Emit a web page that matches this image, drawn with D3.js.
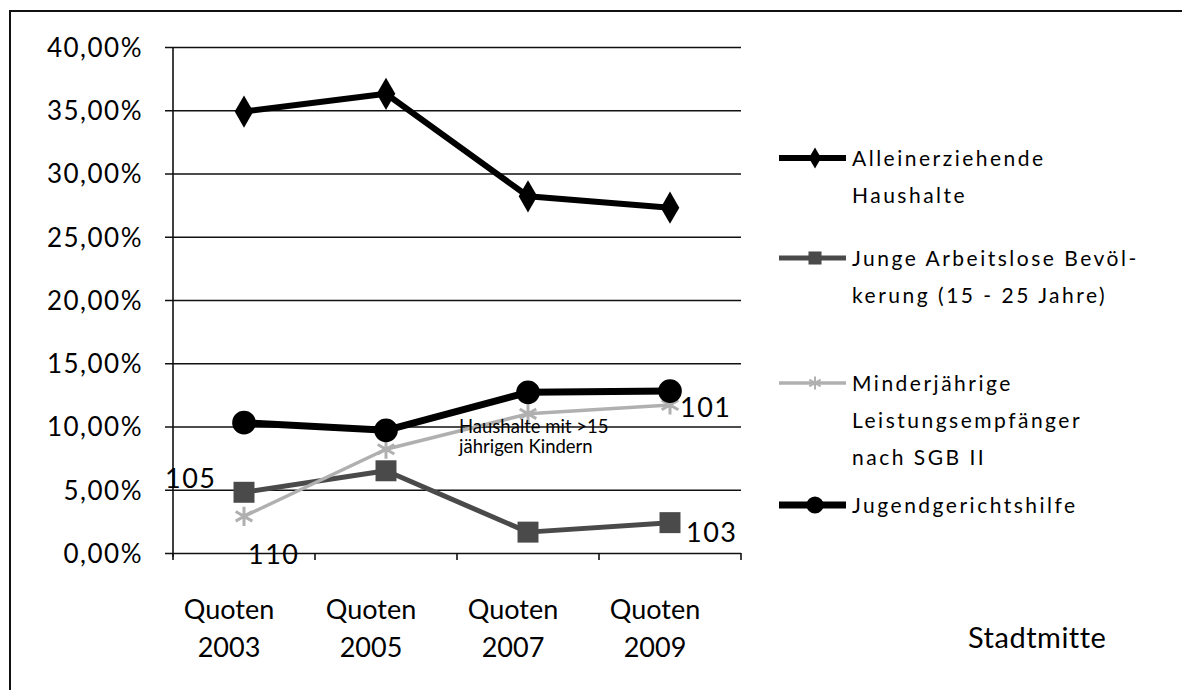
<!DOCTYPE html>
<html>
<head>
<meta charset="utf-8">
<script src="https://cdn.jsdelivr.net/npm/d3@7"></script>
<style>
  body { margin: 0; background: #fff; }
  svg text { font-family: Lato, "Open Sans", sans-serif; fill: #000; }
</style>
</head>
<body>
<svg id="chart"></svg>
<script>
/*
    DATA
*/
var years = ["2003", "2005", "2007", "2009"];
var yTicks = [0, 0.05, 0.10, 0.15, 0.20, 0.25, 0.30, 0.35, 0.40];

var alleinerziehende = [0.349, 0.363, 0.282, 0.273];
var jungeArbeitslose = [0.048, 0.065, 0.0165, 0.024];
var minderjaehrige   = [0.029, 0.082, 0.110, 0.117];
var jugendgericht    = [0.103, 0.097, 0.127, 0.128];

var legendLines = [
  ["Alleinerziehende", "Haushalte"],
  ["Junge  Arbeitslose Bevöl-", "kerung (15 - 25 Jahre)"],
  ["Minderjährige", "Leistungsempfänger", "nach SGB II"],
  ["Jugendgerichtshilfe"]
];

// small number labels sitting beside some points: [series, index, text]
var pointLabels = [
  [1, 0, "105"],
  [2, 0, "110"],
  [2, 3, "101"],
  [1, 3, "103"]
];
var noteLines = ["Haushalte mit >15", "jährigen Kindern"];

/*
    LAYOUT
*/
var width = 1182, height = 690;
var plot = {left: 173, right: 741, top: 47, bottom: 553};

var svg = d3.select("#chart").attr("width", width).attr("height", height);

// frame of the scanned picture
svg.append("line").attr("x1", 9).attr("x2", width).attr("y1", 11).attr("y2", 11)
  .attr("stroke", "#111").attr("stroke-width", 2);
svg.append("line").attr("x1", 10).attr("x2", 10).attr("y1", 11).attr("y2", height)
  .attr("stroke", "#111").attr("stroke-width", 2);

var x = d3.scaleBand().domain(years).range([plot.left, plot.right]);
var y = d3.scaleLinear().domain([0, 0.40]).range([plot.bottom, plot.top]);
var cx = function(i) { return x(years[i]) + x.bandwidth() / 2; };

var pct = function(v) { return d3.format(".2f")(v * 100).replace(".", ",") + "%"; };

// gridlines + y labels
var yAxis = d3.axisLeft(y).tickValues(yTicks).tickFormat(pct)
  .tickSize(-(plot.right - plot.left) - 8).tickPadding(22);
var gy = svg.append("g").attr("transform", "translate(" + (plot.left - 8) + ",0)").call(yAxis);
gy.select(".domain").remove();
gy.selectAll(".tick line").attr("stroke", "#111").attr("stroke-width", 1.6);
gy.selectAll(".tick text").attr("font-size", 26).attr("letter-spacing", 1.5)
  .attr("dy", "0.36em").attr("x", -22);

// y axis line
svg.append("line").attr("x1", plot.left).attr("x2", plot.left)
  .attr("y1", plot.top).attr("y2", plot.bottom + 4)
  .attr("stroke", "#111").attr("stroke-width", 1.6);

// x axis ticks
var xTicks = d3.range(years.length + 1).map(function(i) { return plot.left + i * x.bandwidth(); });
svg.selectAll(".xtick").data(xTicks).enter().append("line")
  .attr("x1", function(d) { return d; }).attr("x2", function(d) { return d; })
  .attr("y1", plot.bottom).attr("y2", plot.bottom + 7)
  .attr("stroke", "#111").attr("stroke-width", 1.6);

// x labels
var xl = svg.selectAll(".xlab").data(years).enter().append("text")
  .attr("text-anchor", "middle").attr("font-size", 27)
  .attr("x", function(d) { return x(d) + x.bandwidth() / 2 - 15; });
xl.append("tspan").attr("y", 619).text("Quoten");
xl.append("tspan").attr("y", 657).attr("x", function(d) { return x(d) + x.bandwidth() / 2 - 15; })
  .text(function(d) { return d; });

/*
    SERIES
*/
var series = [
  {values: alleinerziehende, color: "#000", width: 6, marker: "diamond"},
  {values: jungeArbeitslose, color: "#4a4a4a", width: 5, marker: "square"},
  {values: minderjaehrige, color: "#b0b0b0", width: 3.5, marker: "star"},
  {values: jugendgericht, color: "#000", width: 7, marker: "circle"}
];

var lineGen = d3.line().x(function(d, i) { return cx(i); }).y(function(d) { return y(d); });

var symbolFor = function(m, big) {
  if (m === "diamond") return d3.symbol().type(d3.symbolDiamond).size(big ? 300 : 130)();
  if (m === "square") return d3.symbol().type(d3.symbolSquare).size(big ? 440 : 170)();
  if (m === "star") return d3.symbol().type(d3.symbolAsterisk).size(big ? 260 : 120)();
  return d3.symbol().type(d3.symbolCircle).size(big ? 440 : 230)();
};

series.forEach(function(s) {
  svg.append("path").datum(s.values).attr("d", lineGen)
    .attr("fill", "none").attr("stroke", s.color).attr("stroke-width", s.width)
    .attr("stroke-linejoin", "round");
  svg.selectAll(null).data(s.values).enter().append("path")
    .attr("d", symbolFor(s.marker, true))
    .attr("transform", function(d, i) { return "translate(" + cx(i) + "," + y(d) + ")"; })
    .attr("fill", s.color)
    .attr("stroke", s.color).attr("stroke-width", s.marker === "star" ? 3 : 0);
});

// number labels next to points: offsets from the point, [dx, dy, anchor]
var labelOffset = {"105": [-79, -4, "start"], "110": [4, 48, "start"], "101": [10, 12, "start"], "103": [16, 19, "start"]};
svg.selectAll(".plab").data(pointLabels).enter().append("text")
  .attr("font-size", 27).attr("letter-spacing", 1.5)
  .attr("x", function(d) { return cx(d[1]) + labelOffset[d[2]][0]; })
  .attr("y", function(d) { return y(series[d[0]].values[d[1]]) + labelOffset[d[2]][1]; })
  .attr("text-anchor", function(d) { return labelOffset[d[2]][2]; })
  .text(function(d) { return d[2]; });

// small note in the middle of the plot
svg.selectAll(".note").data(noteLines).enter().append("text")
  .attr("font-size", 18.5).attr("x", 459)
  .attr("y", function(d, i) { return 433 + i * 20; })
  .text(function(d) { return d; });

/*
    LEGEND
*/
var legendY = [158, 258, 383, 505];
series.forEach(function(s, i) {
  var g = svg.append("g").attr("transform", "translate(0," + legendY[i] + ")");
  g.append("line").attr("x1", 779).attr("x2", 846).attr("y1", 0).attr("y2", 0)
    .attr("stroke", s.color).attr("stroke-width", s.width);
  g.append("path").attr("d", symbolFor(s.marker, false))
    .attr("transform", "translate(815,0)")
    .attr("fill", s.color).attr("stroke", s.color).attr("stroke-width", s.marker === "star" ? 2 : 0);
  var t = g.append("text").attr("font-size", 21).attr("letter-spacing", 2.5);
  legendLines[i].forEach(function(line, j) {
    t.append("tspan").attr("x", 852).attr("y", 8 + j * 37).text(line);
  });
});

svg.append("text").attr("x", 968).attr("y", 648).attr("font-size", 29)
  .attr("letter-spacing", 0.5).text("Stadtmitte");
</script>
</body>
</html>
